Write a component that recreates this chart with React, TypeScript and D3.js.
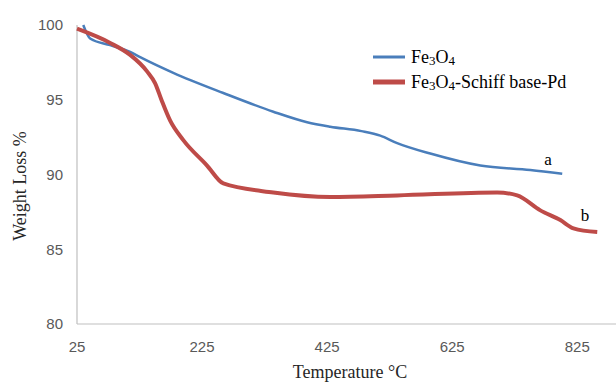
import React, { useRef, useEffect } from 'react';
import * as d3 from 'd3';

// temperature (°C) / weight (%)
const fe3o4Temp = [35, 46, 78, 110, 126, 179, 259, 339, 393, 430, 480, 510, 537, 590, 670, 750, 801];
const fe3o4Weight = [100, 99.1, 98.65, 98.2, 97.85, 96.8, 95.45, 94.2, 93.5, 93.2, 92.9, 92.6, 92.1, 91.4, 90.6, 90.3, 90.05];

const pdTemp = [25, 78, 110, 137, 150, 160, 174, 195, 233, 259, 339, 430, 537, 697, 729, 766, 798, 819, 857];
const pdWeight = [99.75, 98.8, 98.0, 96.9, 96.1, 95.0, 93.6, 92.3, 90.6, 89.4, 88.8, 88.5, 88.6, 88.8, 88.6, 87.6, 86.95, 86.4, 86.15];

const xTicks = [25, 225, 425, 625, 825];
const yTicks = [80, 85, 90, 95, 100];

const W = 616;
const H = 384;

function App() {
  const ref = useRef<SVGSVGElement>(null);

  useEffect(() => {
    const svg = d3.select(ref.current);
    svg.selectAll("*").remove();

    var x = d3.scaleLinear().domain([25, 887]).range([77, 616]);
    var y = d3.scaleLinear().domain([80, 100]).range([324, 25]);

    // axes lines, no tick marks
    svg.append("line")
      .attr("x1", x(25)).attr("x2", x(887))
      .attr("y1", y(80)).attr("y2", y(80))
      .attr("stroke", "#bfbfbf").attr("stroke-width", 1.2);
    svg.append("line")
      .attr("x1", x(25)).attr("x2", x(25))
      .attr("y1", y(80)).attr("y2", y(100))
      .attr("stroke", "#bfbfbf").attr("stroke-width", 1.2);

    svg.append("g")
      .selectAll("text")
      .data(yTicks)
      .join("text")
      .attr("x", 63)
      .attr("y", d => y(d))
      .attr("dy", "0.35em")
      .attr("text-anchor", "end")
      .attr("font-family", "Liberation Sans, sans-serif")
      .attr("font-size", 15)
      .attr("fill", "#595959")
      .text(d => d);

    svg.append("g")
      .selectAll("text")
      .data(xTicks)
      .join("text")
      .attr("x", d => x(d))
      .attr("y", 352)
      .attr("text-anchor", "middle")
      .attr("font-family", "Liberation Sans, sans-serif")
      .attr("font-size", 15)
      .attr("fill", "#595959")
      .text(d => d);

    // axis titles
    svg.append("text")
      .attr("transform", "translate(26,186) rotate(-90)")
      .attr("text-anchor", "middle")
      .attr("font-family", "Liberation Serif, serif")
      .attr("font-size", 18)
      .attr("fill", "#262626")
      .text("Weight Loss %");
    svg.append("text")
      .attr("x", 350)
      .attr("y", 378)
      .attr("text-anchor", "middle")
      .attr("font-family", "Liberation Serif, serif")
      .attr("font-size", 18)
      .attr("fill", "#262626")
      .text("Temperature °C");

    var line = d3.line<[number, number]>()
      .x(d => x(d[0]))
      .y(d => y(d[1]))
      .curve(d3.curveMonotoneX);

    svg.append("path")
      .datum(fe3o4Temp.map((t, i) => [t, fe3o4Weight[i]] as [number, number]))
      .attr("d", line)
      .attr("fill", "none")
      .attr("stroke", "#4a7ebb")
      .attr("stroke-width", 2.5);

    svg.append("path")
      .datum(pdTemp.map((t, i) => [t, pdWeight[i]] as [number, number]))
      .attr("d", line)
      .attr("fill", "none")
      .attr("stroke", "#be4b48")
      .attr("stroke-width", 4);

    // curve labels
    svg.append("text")
      .attr("x", 548).attr("y", 165)
      .attr("text-anchor", "middle")
      .attr("font-family", "Liberation Serif, serif")
      .attr("font-size", 17)
      .attr("fill", "#000")
      .text("a");
    svg.append("text")
      .attr("x", 585).attr("y", 221)
      .attr("text-anchor", "middle")
      .attr("font-family", "Liberation Serif, serif")
      .attr("font-size", 17)
      .attr("fill", "#000")
      .text("b");

    // legend
    var legend = [
      { color: "#4a7ebb", width: 3, parts: [["Fe", false], ["3", true], ["O", false], ["4", true]] },
      { color: "#be4b48", width: 5, parts: [["Fe", false], ["3", true], ["O", false], ["4", true], ["-Schiff base-Pd", false]] },
    ];
    legend.forEach((l, i) => {
      const ly = 57 + i * 25;
      svg.append("line")
        .attr("x1", 373).attr("x2", 405)
        .attr("y1", ly).attr("y2", ly)
        .attr("stroke", l.color)
        .attr("stroke-width", l.width);
      const t = svg.append("text")
        .attr("x", 411).attr("y", ly + 6)
        .attr("font-family", "Liberation Serif, serif")
        .attr("font-size", 18)
        .attr("fill", "#000");
      var low = false;
      l.parts.forEach(p => {
        const sub = p[1] as boolean;
        const dy = sub === low ? 0 : (sub ? 2 : -2);
        low = sub;
        t.append("tspan")
          .attr("font-size", sub ? 13 : 18)
          .attr("dy", dy)
          .text(p[0] as string);
      });
    });
  }, []);

  return (
    <div style={{ position: "absolute", left: 0, top: 0 }}>
      <svg ref={ref} width={W} height={H} style={{ display: "block", background: "#fff" }}></svg>
    </div>
  );
}

export default App;
